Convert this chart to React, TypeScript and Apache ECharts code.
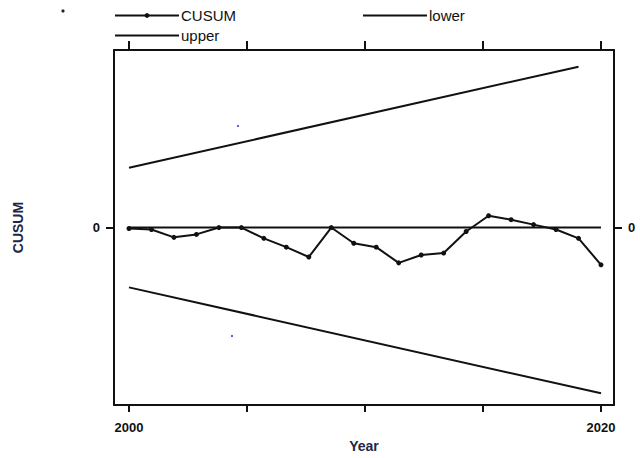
import React, { useEffect, useRef } from "react";
import * as echarts from "echarts";

// ---- data ----
const cusumIndex = [0, 1, 2, 3, 4, 5, 6, 7, 8, 9, 10, 11, 12, 13, 14, 15, 16, 17, 18, 19, 20, 21];
const cusumValues = [-0.1, -0.2, -1.0, -0.7, 0, 0, -1.1, -2.0, -3.0, 0, -1.6, -2.0, -3.6, -2.8, -2.6, -0.4, 1.2, 0.8, 0.3, -0.2, -1.1, -3.8];
const upperIndex = [0, 20];
const upperValues = [6.1, 16.4];
const lowerIndex = [0, 21];
const lowerValues = [-6.1, -16.9];
const zeroIndex = [0, 21];
const zeroValues = [0, 0];
const xTickPositions = [0, 5.25, 10.5, 15.75, 21];
const xLabelPositions = [0, 21];
const xLabelTexts = ["2000", "2020"];
const yTickValues = [0];
const yLabelTexts = ["0"];

const X_MIN = -0.667;
const X_MAX = 21.578;
const Y_MIN = -18.1;
const Y_MAX = 18.1;

const FONT = "'Liberation Sans', Arial, sans-serif";
const INK = "#111";
const NAVY = "#1d2748";

const zip = (xs: number[], ys: number[]) => xs.map((x, i) => [x, ys[i]]);

export default function App() {
  const ref = useRef<HTMLDivElement>(null);
  useEffect(() => {
    const chart = echarts.init(ref.current!, null, { renderer: "svg" });
    const xLabelFmt = (v: number) => {
      const i = xLabelPositions.findIndex((p) => Math.abs(p - v) < 1e-6);
      return i >= 0 ? xLabelTexts[i] : "";
    };
    const yLabelFmt = (v: number) => {
      const i = yTickValues.findIndex((p) => Math.abs(p - v) < 1e-6);
      return i >= 0 ? yLabelTexts[i] : "";
    };
    const axisLine = { show: true, onZero: false, lineStyle: { color: INK, width: 2 } };
    const labelStyle = { fontSize: 13, fontWeight: "bold", color: INK, fontFamily: FONT };
    const legendBase = {
      orient: "horizontal",
      padding: 0,
      itemWidth: 64,
      itemHeight: 6,
      itemGap: 0,
      textStyle: { fontSize: 15, color: INK, fontFamily: FONT, padding: [0, 0, 0, -3] },
    };
    chart.setOption({
      animation: false,
      backgroundColor: "#fff",
      grid: { left: 114, right: 26, top: 50, bottom: 46, containLabel: false },
      legend: [
        { ...legendBase, data: ["CUSUM"], left: 114, top: 8 },
        { ...legendBase, data: ["upper"], left: 114, top: 28, itemStyle: { opacity: 0 } },
        { ...legendBase, data: ["lower"], left: 362, top: 8, itemStyle: { opacity: 0 } },
      ],
      xAxis: [
        {
          type: "value",
          position: "bottom",
          min: X_MIN,
          max: X_MAX,
          axisLine,
          axisTick: { show: true, customValues: xTickPositions, length: 7, lineStyle: { color: INK, width: 2 } },
          axisLabel: { ...labelStyle, customValues: xLabelPositions, formatter: xLabelFmt, margin: 16 },
          splitLine: { show: false },
          name: "Year",
          nameLocation: "middle",
          nameGap: 24,
          nameTextStyle: { fontSize: 14, fontWeight: "bold", color: NAVY, fontFamily: FONT },
        },
        {
          type: "value",
          position: "top",
          min: X_MIN,
          max: X_MAX,
          axisLine,
          axisTick: { show: true, customValues: xTickPositions, length: 9, lineStyle: { color: INK, width: 2 } },
          axisLabel: { show: false },
          splitLine: { show: false },
        },
      ],
      yAxis: [
        {
          type: "value",
          position: "left",
          min: Y_MIN,
          max: Y_MAX,
          axisLine,
          axisTick: { show: true, customValues: yTickValues, length: 8, lineStyle: { color: INK, width: 2 } },
          axisLabel: { ...labelStyle, customValues: yTickValues, formatter: yLabelFmt, margin: 14 },
          splitLine: { show: false },
          name: "CUSUM",
          nameLocation: "middle",
          nameGap: 89,
          nameTextStyle: { fontSize: 14, fontWeight: "bold", color: NAVY, fontFamily: FONT },
        },
        {
          type: "value",
          position: "right",
          min: Y_MIN,
          max: Y_MAX,
          axisLine,
          axisTick: { show: true, customValues: yTickValues, length: 8, lineStyle: { color: INK, width: 2 } },
          axisLabel: { ...labelStyle, customValues: yTickValues, formatter: yLabelFmt, margin: 14 },
          splitLine: { show: false },
        },
      ],
      series: [
        {
          name: "zero",
          type: "line",
          data: zip(zeroIndex, zeroValues),
          symbol: "none",
          silent: true,
          lineStyle: { color: INK, width: 2 },
          z: 1,
        },
        {
          name: "upper",
          type: "line",
          data: zip(upperIndex, upperValues),
          symbol: "none",
          lineStyle: { color: INK, width: 2 },
          itemStyle: { color: INK },
          z: 2,
        },
        {
          name: "lower",
          type: "line",
          data: zip(lowerIndex, lowerValues),
          symbol: "none",
          lineStyle: { color: INK, width: 2 },
          itemStyle: { color: INK },
          z: 2,
        },
        {
          name: "CUSUM",
          type: "line",
          data: zip(cusumIndex, cusumValues),
          symbol: "circle",
          symbolSize: 5,
          lineStyle: { color: INK, width: 2 },
          itemStyle: { color: INK },
          z: 3,
        },
      ],
      graphic: [
        { type: "circle", shape: { cx: 63, cy: 11, r: 1.6 }, style: { fill: "#222" }, silent: true },
        { type: "circle", shape: { cx: 238, cy: 126, r: 1.1 }, style: { fill: "#4a4ae0" }, silent: true },
        { type: "circle", shape: { cx: 232, cy: 336, r: 1.1 }, style: { fill: "#4a4ae0" }, silent: true },
      ],
    });
    return () => chart.dispose();
  }, []);
  return (
    <div
      ref={ref}
      style={{ position: "absolute", left: 0, top: 0, width: 640, height: 458, background: "#fff" }}
    />
  );
}
